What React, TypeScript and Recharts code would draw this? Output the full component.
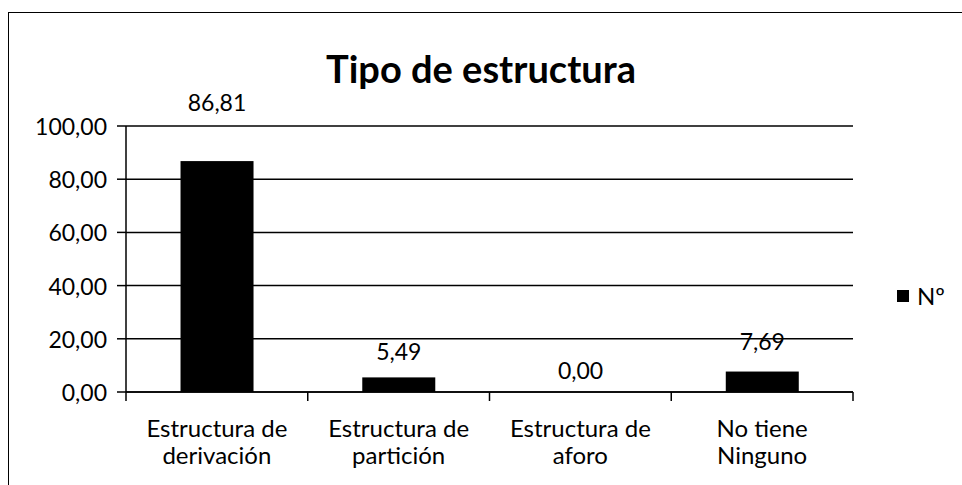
import React from "react";
import { BarChart, Bar, XAxis, YAxis, CartesianGrid } from "recharts";

const categories = ["Estructura de|derivación", "Estructura de|partición", "Estructura de|aforo", "No tiene|Ninguno"];
const values = [86.81, 5.49, 0.0, 7.69];
const yTicks = [0, 20, 40, 60, 80, 100];
// distance of each data label centre above its bar, as placed in the original
const labelLift = [59, 26, 22, 31];

const data = categories.map((c, i) => ({ cat: c, n: values[i] }));

const W = 954;
const H = 473;
const M = { top: 114, right: 109, left: 0, bottom: 33 };
const Y_W = 118;
const FONT = "Lato, 'Open Sans', sans-serif";
const fmt = (v: number) => v.toFixed(2).replace(".", ",");

function CatTick(props: any) {
  const { x, y, payload, index } = props;
  const half = (W - M.right - Y_W) / categories.length / 2;
  const lines = String(payload.value).split("|");
  const top = y - 8;
  return (
    <g>
      <line x1={x - half} x2={x - half} y1={top} y2={top + 9} stroke="#000" strokeWidth={1.5} />
      {index === categories.length - 1 && (
        <line x1={x + half} x2={x + half} y1={top} y2={top + 9} stroke="#000" strokeWidth={1.5} />
      )}
      {lines.map((l, i) => (
        <text key={i} x={x} y={top + 45 + i * 27} textAnchor="middle" fontSize={24} fontFamily={FONT} fill="#000">
          {l}
        </text>
      ))}
    </g>
  );
}

function YTick(props: any) {
  const { x, y, payload } = props;
  return (
    <text x={x - 8} y={y} textAnchor="end" dominantBaseline="central" fontSize={23} fontFamily={FONT} fill="#000">
      {fmt(payload.value)}
    </text>
  );
}

function BarWithLabel(props: any) {
  const { x, y, width, height, index, value } = props;
  const v = Array.isArray(value) ? value[1] - value[0] : value;
  return (
    <g>
      {height > 0 && <rect x={x} y={y} width={width} height={height} fill="#000" />}
      <text
        x={x + width / 2}
        y={y - labelLift[index]}
        textAnchor="middle"
        dominantBaseline="central"
        fontSize={23}
        fontFamily={FONT}
        fill="#000"
      >
        {fmt(v)}
      </text>
    </g>
  );
}

export default function App() {
  return (
    <div style={{ position: "absolute", left: 8, top: 12, width: W, height: H, overflow: "hidden" }}>
      <div style={{ position: "absolute", left: 0, top: 0, width: 1000, height: 520, border: "1px solid #000", boxSizing: "border-box" }} />
      <div
        style={{
          position: "absolute",
          left: 0,
          width: 946,
          top: 34,
          textAlign: "center",
          fontFamily: FONT,
          fontWeight: 700,
          fontSize: 38,
          lineHeight: "44px",
        }}
      >
        Tipo de estructura
      </div>
      <div
        style={{
          position: "absolute",
          left: 889,
          top: 270,
          display: "flex",
          alignItems: "center",
          fontFamily: FONT,
          fontSize: 24,
          lineHeight: "28px",
        }}
      >
        <span style={{ width: 12, height: 12, background: "#000", marginRight: 8 }} />
        <span>Nº</span>
      </div>
      <BarChart width={W} height={H} data={data} margin={M} barCategoryGap="30%">
        <CartesianGrid vertical={false} stroke="#000" strokeWidth={1.5} />
        <XAxis dataKey="cat" stroke="#000" strokeWidth={1.5} tickLine={false} tick={<CatTick />} height={60} interval={0} />
        <YAxis
          width={Y_W}
          domain={[0, 100]}
          ticks={yTicks}
          stroke="#000"
          strokeWidth={1.5}
          tickSize={9}
          tickMargin={2}
          tick={<YTick />}
        />
        <Bar dataKey="n" name="Nº" fill="#000" isAnimationActive={false} shape={<BarWithLabel />} />
      </BarChart>
    </div>
  );
}
